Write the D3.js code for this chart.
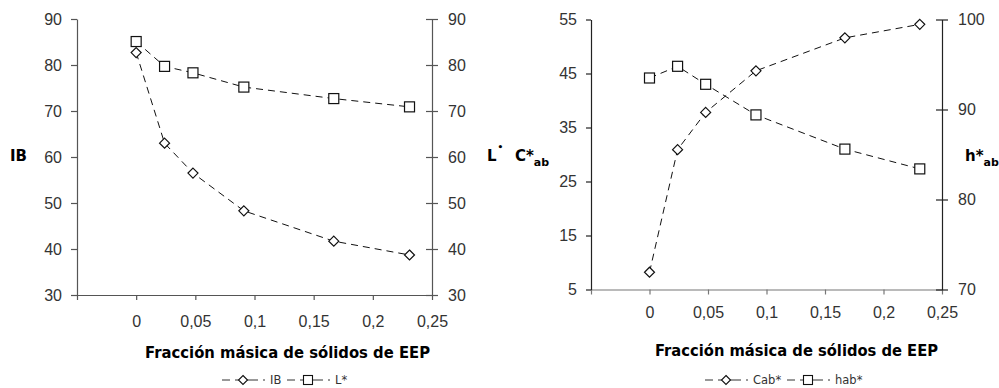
<!DOCTYPE html>
<html>
<head>
<meta charset="utf-8">
<script src="https://cdn.jsdelivr.net/npm/d3@7/dist/d3.min.js"></script>
<style>
  html, body { margin: 0; padding: 0; background: #fff; }
  svg { display: block; font-family: "DejaVu Sans", sans-serif; }
  .tick text { font-size: 16px; fill: #333; }
</style>
</head>
<body>
<svg id="chart" width="999" height="388"></svg>
<script>
// Mass fraction of EEP solids (x)
const fraccion = [0, 0.024, 0.048, 0.091, 0.167, 0.231];

// Left panel: whiteness index and lightness
const IB = [82.7, 63.0, 56.5, 48.3, 41.7, 38.7];
const Lstar = [85.1, 79.7, 78.3, 75.2, 72.7, 70.9];

// Right panel: chroma and hue angle
const Cab = [8.2, 30.9, 37.8, 45.5, 51.6, 54.1];
const hab = [93.5, 94.8, 92.8, 89.4, 85.6, 83.4];

// Tick values
const xTicks = [-0.05, 0, 0.05, 0.1, 0.15, 0.2, 0.25];
const yTicksIB = [30, 40, 50, 60, 70, 80, 90];
const yTicksC = [5, 15, 25, 35, 45, 55];
const yTicksH = [70, 80, 90, 100];

const svg = d3.select("#chart");
const comma = v => (v < 0 ? "" : String(v).replace(".", ","));

function crossTicks(g, len) {
  g.selectAll(".tick line").attr("x1", -len).attr("x2", len);
}

function drawSeries(g, x, y, xs, ys, marker) {
  const line = d3.line().x((d, i) => x(xs[i])).y(d => y(d));
  g.append("path")
    .attr("d", line(ys))
    .attr("fill", "none")
    .attr("stroke", "#111")
    .attr("stroke-width", 1)
    .attr("stroke-dasharray", "7,5");
  const pts = g.selectAll(null).data(ys).enter();
  if (marker === "diamond") {
    pts.append("path")
      .attr("d", "M0,-5L5,0L0,5L-5,0Z")
      .attr("transform", (d, i) => `translate(${x(xs[i])},${y(d)})`)
      .attr("fill", "#fff").attr("stroke", "#111").attr("stroke-width", 1.2);
  } else {
    pts.append("rect")
      .attr("x", (d, i) => x(xs[i]) - 5).attr("y", d => y(d) - 5)
      .attr("width", 10).attr("height", 10)
      .attr("fill", "#fff").attr("stroke", "#111").attr("stroke-width", 1.2);
  }
}

function legendItem(g, x0, y0, marker, label) {
  g.append("line")
    .attr("x1", x0).attr("x2", x0 + 46).attr("y1", y0).attr("y2", y0)
    .attr("stroke", "#333").attr("stroke-width", 1)
    .attr("stroke-dasharray", "8,5,23,5,2");
  const cx = x0 + 21;
  if (marker === "diamond") {
    g.append("path").attr("d", "M0,-4.5L4.5,0L0,4.5L-4.5,0Z")
      .attr("transform", `translate(${cx},${y0})`)
      .attr("fill", "#fff").attr("stroke", "#111").attr("stroke-width", 1.1);
  } else {
    g.append("rect").attr("x", cx - 4.5).attr("y", y0 - 4.5)
      .attr("width", 9).attr("height", 9)
      .attr("fill", "#fff").attr("stroke", "#111").attr("stroke-width", 1.1);
  }
  g.append("text").attr("x", x0 + 48).attr("y", y0 + 4)
    .attr("font-size", 11.5).attr("fill", "#333").text(label);
}

function styleAxis(g, color) {
  g.selectAll(".domain").attr("stroke", color).attr("stroke-width", 1.2);
  g.selectAll(".tick line").attr("stroke", color).attr("stroke-width", 1.2);
}

// ---------- Left panel ----------
{
  const x = d3.scaleLinear().domain([-0.05, 0.25]).range([77, 432]);
  const y = d3.scaleLinear().domain([30, 90]).range([295, 19]);
  const yR = d3.scaleLinear().domain([30, 90]).range([295, 19]);
  const g = svg.append("g");

  const ax = g.append("g").attr("transform", "translate(0,295)")
    .call(d3.axisBottom(x).tickValues(xTicks).tickFormat(comma).tickSize(5).tickSizeOuter(0).tickPadding(16));
  styleAxis(ax, "#555");

  const ay = g.append("g").attr("transform", "translate(77,0)")
    .call(d3.axisLeft(y).tickValues(yTicksIB).tickSize(6).tickSizeOuter(0).tickPadding(9));
  styleAxis(ay, "#555");

  const ar = g.append("g").attr("transform", "translate(432,0)")
    .call(d3.axisRight(yR).tickValues(yTicksIB).tickSize(6).tickSizeOuter(0).tickPadding(10));
  crossTicks(ar, 6);
  styleAxis(ar, "#555");

  drawSeries(g, x, yR, fraccion, Lstar, "square");
  drawSeries(g, x, y, fraccion, IB, "diamond");

  g.append("text").attr("x", 10).attr("y", 161)
    .attr("font-size", 15).attr("font-weight", "bold").text("IB");

  const lt = g.append("text").attr("x", 487).attr("y", 161)
    .attr("font-size", 15).attr("font-weight", "bold");
  lt.append("tspan").text("L");
  lt.append("tspan").attr("dy", -11).attr("dx", 1).attr("font-size", 9).text("•");

  g.append("text").attr("x", 145).attr("y", 358)
    .attr("font-size", 16).attr("font-weight", "bold")
    .attr("textLength", 285).attr("lengthAdjust", "spacingAndGlyphs")
    .text("Fracción másica de sólidos de EEP");

  legendItem(g, 222, 380, "diamond", "IB");
  legendItem(g, 287, 380, "square", "L*");
}

// ---------- Right panel ----------
{
  const x = d3.scaleLinear().domain([-0.05, 0.25]).range([591, 942]);
  const y = d3.scaleLinear().domain([5, 55]).range([289.5, 19.5]);
  const yR = d3.scaleLinear().domain([70, 100]).range([289.5, 19.5]);
  const g = svg.append("g");

  const ax = g.append("g").attr("transform", "translate(0,289.5)")
    .call(d3.axisBottom(x).tickValues(xTicks).tickFormat(comma).tickSize(5).tickSizeOuter(0).tickPadding(12));
  styleAxis(ax, "#777");

  const ay = g.append("g").attr("transform", "translate(591,0)")
    .call(d3.axisLeft(y).tickValues(yTicksC).tickSize(5).tickSizeOuter(0).tickPadding(9));
  styleAxis(ay, "#222");

  const ar = g.append("g").attr("transform", "translate(942,0)")
    .call(d3.axisRight(yR).tickValues(yTicksH).tickSize(6).tickSizeOuter(0).tickPadding(10));
  crossTicks(ar, 6);
  styleAxis(ar, "#222");

  drawSeries(g, x, yR, fraccion, hab, "square");
  drawSeries(g, x, y, fraccion, Cab, "diamond");

  const ct = g.append("text").attr("x", 515).attr("y", 161)
    .attr("font-size", 15).attr("font-weight", "bold");
  ct.append("tspan").text("C*");
  ct.append("tspan").attr("dy", 5).attr("font-size", 11).text("ab");

  const ht = g.append("text").attr("x", 965).attr("y", 161)
    .attr("font-size", 15).attr("font-weight", "bold");
  ht.append("tspan").text("h*");
  ht.append("tspan").attr("dy", 5).attr("font-size", 11).text("ab");

  g.append("text").attr("x", 655).attr("y", 356)
    .attr("font-size", 16).attr("font-weight", "bold")
    .attr("textLength", 283).attr("lengthAdjust", "spacingAndGlyphs")
    .text("Fracción másica de sólidos de EEP");

  legendItem(g, 705, 380, "diamond", "Cab*");
  legendItem(g, 787, 380, "square", "hab*");
}
</script>
</body>
</html>
